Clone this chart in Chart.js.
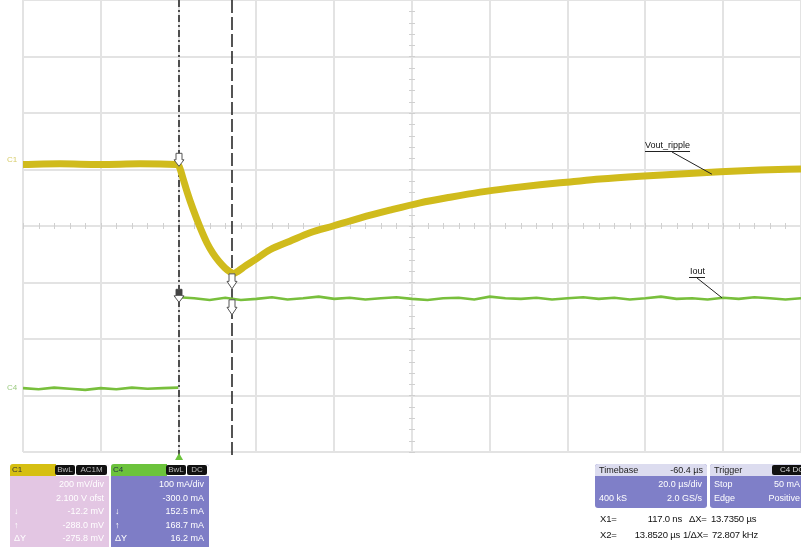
<!DOCTYPE html>
<html>
<head>
<meta charset="utf-8">
<script src="https://cdn.jsdelivr.net/npm/chart.js@4/dist/chart.umd.min.js"></script>
<style>
  html, body { margin: 0; padding: 0; background: #fff; }
  #wrap { position: relative; width: 801px; height: 547px; overflow: hidden;
          font-family: "Liberation Sans", Arial, sans-serif; }
  #scope { position: absolute; left: 0; top: 0; }
  .box { position: absolute; border-radius: 3px; overflow: hidden; font-size: 9px; line-height: 13px; }
  .hdr { position: relative; height: 12px; line-height: 12px; }
  .body { position: relative; color: #fff; padding: 2px 5px 0 4px; }
  .row { position: relative; height: 13.5px; }
  .row .l { position: absolute; left: 0; }
  .row .r { position: absolute; right: 0; }
  .badge { position: absolute; top: 1px; height: 10px; line-height: 10px; background: #111; color: #bbb;
           font-size: 8px; text-align: center; border-radius: 2px; }
  .meas { position: absolute; font-size: 9.5px; color: #111; white-space: nowrap; letter-spacing: -0.2px; }
</style>
</head>
<body>
<div id="wrap">
  <canvas id="scope" width="801" height="547"></canvas>

  <!-- channel 1 panel -->
  <div class="box" style="left:10px;top:464px;width:99px;height:86px;background:#e3c6e3;">
    <div class="hdr" style="background:#fff;">
      <div style="position:absolute;left:0;top:0;width:44px;height:12px;background:#d6bf12;color:#333;font-size:8px;padding-left:2px;">C1</div>
      <div class="badge" style="left:45px;width:20px;">BwL</div>
      <div class="badge" style="left:66px;width:31px;">AC1M</div>
    </div>
    <div class="body">
      <div class="row"><span class="r">200 mV/div</span></div>
      <div class="row"><span class="r">2.100 V ofst</span></div>
      <div class="row"><span class="l">↓</span><span class="r">-12.2 mV</span></div>
      <div class="row"><span class="l">↑</span><span class="r">-288.0 mV</span></div>
      <div class="row"><span class="l">ΔY</span><span class="r">-275.8 mV</span></div>
    </div>
  </div>

  <!-- channel 4 panel -->
  <div class="box" style="left:111px;top:464px;width:98px;height:86px;background:#7e7dc6;">
    <div class="hdr" style="background:#fff;">
      <div style="position:absolute;left:0;top:0;width:54px;height:12px;background:#6cc33c;color:#234;font-size:8px;padding-left:2px;">C4</div>
      <div class="badge" style="left:55px;width:20px;">BwL</div>
      <div class="badge" style="left:76px;width:20px;">DC</div>
    </div>
    <div class="body">
      <div class="row"><span class="r">100 mA/div</span></div>
      <div class="row"><span class="r">-300.0 mA</span></div>
      <div class="row"><span class="l">↓</span><span class="r">152.5 mA</span></div>
      <div class="row"><span class="l">↑</span><span class="r">168.7 mA</span></div>
      <div class="row"><span class="l">ΔY</span><span class="r">16.2 mA</span></div>
    </div>
  </div>

  <!-- timebase panel -->
  <div class="box" style="left:595px;top:464px;width:112px;height:44px;background:#7f7fc8;">
    <div class="hdr" style="background:#dcdcef;color:#222;padding:0 4px;">
      <span style="position:absolute;left:4px;">Timebase</span>
      <span style="position:absolute;right:4px;">-60.4 µs</span>
    </div>
    <div class="body">
      <div class="row"><span class="r">20.0 µs/div</span></div>
      <div class="row"><span class="l">400 kS</span><span class="r">2.0 GS/s</span></div>
    </div>
  </div>

  <!-- trigger panel -->
  <div class="box" style="left:710px;top:464px;width:104px;height:44px;background:#7f7fc8;">
    <div class="hdr" style="background:#dcdcef;color:#222;">
      <span style="position:absolute;left:4px;">Trigger</span>
      <div class="badge" style="left:62px;width:40px;color:#ddd;">C4 DC</div>
    </div>
    <div class="body" style="padding-right:14px;">
      <div class="row"><span class="l">Stop</span><span class="r">50 mA</span></div>
      <div class="row"><span class="l">Edge</span><span class="r">Positive</span></div>
    </div>
  </div>

  <!-- cursor readouts -->
  <div class="meas" style="left:600px;top:513px;">X1=</div>
  <div class="meas" style="left:620px;top:513px;width:62px;text-align:right;">117.0 ns</div>
  <div class="meas" style="left:689px;top:513px;">ΔX=</div>
  <div class="meas" style="left:711px;top:513px;">13.7350 µs</div>
  <div class="meas" style="left:600px;top:529px;">X2=</div>
  <div class="meas" style="left:612px;top:529px;width:68px;text-align:right;">13.8520 µs</div>
  <div class="meas" style="left:683px;top:529px;">1/ΔX=</div>
  <div class="meas" style="left:712px;top:529px;">72.807 kHz</div>
</div>

<script>
// Time axis: 20 µs/div, 10 divisions, trigger at 0 µs
const timeTicksUs = [-40, -20, 0, 20, 40, 60, 80, 100, 120, 140, 160];
const vertDivs = [-4, -3, -2, -1, 0, 1, 2, 3, 4];

// C1 output voltage (AC coupled), in screen divisions
const voutTimeUs = [-40, -30.5, -20.2, -9.9, -0.7, 0.1, 1.1, 2.2, 3.7, 5.5, 7.3, 8.8, 10.4, 11.9, 13.2, 14.2,
  15.3, 17.1, 19.6, 23.5, 28.6, 33.8, 39.7, 46.6, 54.3, 62.1, 69.8, 77.5, 85.2, 92.9, 100.6, 108.3,
  118.6, 128.9, 139.2, 149.5, 160];
const voutDiv = [1.09, 1.10, 1.09, 1.10, 1.09, 1.06, 0.85, 0.60, 0.30, -0.02, -0.30, -0.48, -0.63, -0.74, -0.81, -0.84,
  -0.80, -0.71, -0.60, -0.42, -0.27, -0.12, 0.00, 0.14, 0.28, 0.41, 0.51, 0.60, 0.67, 0.73, 0.78, 0.83,
  0.88, 0.92, 0.96, 0.99, 1.01];

// C4 load current, in mA (100 mA/div); null marks the step, which the scope does not trace
const ioutTimeUs = [-40, -36, -32, -28, -24, -20, -16, -12, -8, -4, -0.1, 0, 0.1,
  4, 8, 12, 16, 20, 24, 28, 32, 36, 40, 44, 48, 52, 56, 60, 64, 68, 72, 76, 80,
  84, 88, 92, 96, 100, 104, 108, 112, 116, 120, 124, 128, 132, 136, 140, 144, 148, 152, 156, 160];
const ioutMa = [1, -1, 2, 0, -2, 1, -1, 2, 0, 1, 2, null, 162,
  160, 157, 161, 157, 159, 162, 158, 160, 163, 159, 161, 158, 160, 162, 159, 157, 160, 161, 158, 163,
  160, 159, 161, 158, 160, 162, 159, 161, 158, 160, 163, 159, 160, 158, 161, 159, 162, 160, 158, 160];

// Cursor positions (µs)
const cursorX1 = 0.117;
const cursorX2 = 13.852;

// Screen placement of the current trace zero level (divisions)
const ioutZeroDiv = -2.88;
const ioutMaPerDiv = 100;

const voutPoints = voutTimeUs.map((t, i) => ({ x: t, y: voutDiv[i] }));
const ioutDiv = ioutMa.map(v => v === null ? null : v / ioutMaPerDiv + ioutZeroDiv);
const ioutPoints = ioutTimeUs.map((t, i) => ({ x: t, y: ioutDiv[i] }));

function interp(xs, ys, x) {
  const px = [], py = [];
  xs.forEach((v, i) => { if (ys[i] !== null) { px.push(v); py.push(ys[i]); } });
  for (let i = 1; i < px.length; i++) {
    if (x <= px[i]) {
      const f = (x - px[i - 1]) / (px[i] - px[i - 1]);
      return py[i - 1] + f * (py[i] - py[i - 1]);
    }
  }
  return py[py.length - 1];
}

function cursorArrow(ctx, cx, top, h, darkStem) {
  const sw = 3, hw = 5, stem = h * 0.5;
  ctx.save();
  ctx.lineWidth = 1;
  ctx.strokeStyle = '#555';
  ctx.beginPath();
  ctx.moveTo(cx - sw, top);
  ctx.lineTo(cx + sw, top);
  ctx.lineTo(cx + sw, top + stem);
  ctx.lineTo(cx + hw, top + stem);
  ctx.lineTo(cx, top + h);
  ctx.lineTo(cx - hw, top + stem);
  ctx.lineTo(cx - sw, top + stem);
  ctx.closePath();
  ctx.fillStyle = '#fff';
  ctx.fill();
  ctx.stroke();
  if (darkStem) {
    ctx.fillStyle = '#444';
    ctx.fillRect(cx - sw, top, sw * 2, stem);
  }
  ctx.restore();
}

const scopeDecor = {
  id: 'scopeDecor',
  beforeDatasetsDraw(chart) {
    const { ctx, chartArea: a, scales: { x, y } } = chart;
    ctx.save();
    // minor ticks on the centre axes
    ctx.strokeStyle = '#d0d0d0';
    ctx.lineWidth = 1;
    const cx = x.getPixelForValue(60), cy = y.getPixelForValue(0);
    for (let t = -40; t <= 160; t += 4) {
      const px = Math.round(x.getPixelForValue(t)) + 0.5;
      ctx.beginPath(); ctx.moveTo(px, cy - 3); ctx.lineTo(px, cy + 3); ctx.stroke();
    }
    for (let v = -4; v <= 4; v += 0.2) {
      const py = Math.round(y.getPixelForValue(v)) + 0.5;
      ctx.beginPath(); ctx.moveTo(cx - 3, py); ctx.lineTo(cx + 3, py); ctx.stroke();
    }
    // cursor lines
    ctx.strokeStyle = '#2a2a2a';
    ctx.lineWidth = 1.6;
    ctx.setLineDash([7, 3, 2, 3]);
    let px = Math.round(x.getPixelForValue(cursorX1));
    ctx.beginPath(); ctx.moveTo(px, a.top); ctx.lineTo(px, a.bottom + 4); ctx.stroke();
    ctx.setLineDash([13, 4]);
    px = Math.round(x.getPixelForValue(cursorX2));
    ctx.beginPath(); ctx.moveTo(px, a.top); ctx.lineTo(px, a.bottom + 4); ctx.stroke();
    ctx.restore();
  },
  afterDatasetsDraw(chart) {
    const { ctx, chartArea: a, scales: { x, y } } = chart;
    ctx.save();
    const x1 = x.getPixelForValue(cursorX1), x2 = x.getPixelForValue(cursorX2);
    const vy1 = y.getPixelForValue(interp(voutTimeUs, voutDiv, cursorX1));
    const vy2 = y.getPixelForValue(interp(voutTimeUs, voutDiv, cursorX2));
    const iy1 = y.getPixelForValue(interp(ioutTimeUs, ioutDiv, 4));
    const iy2 = y.getPixelForValue(interp(ioutTimeUs, ioutDiv, cursorX2));
    cursorArrow(ctx, Math.round(x1), vy1 - 13, 13, false);
    cursorArrow(ctx, Math.round(x1), iy1 - 9, 13, true);
    cursorArrow(ctx, Math.round(x2), vy2 + 1, 15, false);
    cursorArrow(ctx, Math.round(x2), iy2 + 1, 15, false);

    // trigger position marker under the grid
    ctx.fillStyle = '#6cc33c';
    ctx.beginPath();
    ctx.moveTo(x1, a.bottom + 1);
    ctx.lineTo(x1 + 4, a.bottom + 8);
    ctx.lineTo(x1 - 4, a.bottom + 8);
    ctx.closePath();
    ctx.fill();

    // channel tags at the left edge
    ctx.font = '8px "Liberation Sans", Arial, sans-serif';
    ctx.textBaseline = 'middle';
    ctx.fillStyle = '#d7cc6a';
    ctx.fillText('C1', 7, y.getPixelForValue(voutDiv[0]) - 5);
    ctx.fillStyle = '#9ccb80';
    ctx.fillText('C4', 7, y.getPixelForValue(ioutZeroDiv) - 1);

    // trace annotations with leader lines
    ctx.fillStyle = '#111';
    ctx.strokeStyle = '#222';
    ctx.lineWidth = 1;
    ctx.font = '9px "Liberation Sans", Arial, sans-serif';
    ctx.textBaseline = 'alphabetic';
    const vTxt = 'Vout_ripple';
    ctx.fillText(vTxt, 645, 148);
    let w = ctx.measureText(vTxt).width;
    ctx.beginPath(); ctx.moveTo(645, 151.5); ctx.lineTo(645 + w, 151.5); ctx.stroke();
    const vt = 137.1;
    ctx.beginPath(); ctx.moveTo(672, 152); ctx.lineTo(x.getPixelForValue(vt), y.getPixelForValue(interp(voutTimeUs, voutDiv, vt)) + 2); ctx.stroke();
    const iTxt = 'Iout';
    ctx.fillText(iTxt, 690, 274);
    w = ctx.measureText(iTxt).width;
    ctx.beginPath(); ctx.moveTo(689, 277.5); ctx.lineTo(690 + w, 277.5); ctx.stroke();
    const it = 139.7;
    ctx.beginPath(); ctx.moveTo(697, 278); ctx.lineTo(x.getPixelForValue(it), y.getPixelForValue(interp(ioutTimeUs, ioutDiv, it))); ctx.stroke();
    ctx.restore();
  }
};

new Chart(document.getElementById('scope'), {
  type: 'line',
  data: {
    datasets: [
      {
        label: 'Iout',
        data: ioutPoints,
        borderColor: '#78bf3c',
        borderWidth: 2.6,
        pointRadius: 0,
        tension: 0,
        spanGaps: false
      },
      {
        label: 'Vout_ripple',
        data: voutPoints,
        borderColor: '#d0bb1c',
        borderWidth: 7,
        pointRadius: 0,
        cubicInterpolationMode: 'monotone'
      }
    ]
  },
  options: {
    responsive: false,
    animation: false,
    devicePixelRatio: 1,
    layout: { padding: { left: 23, right: 0, top: 0, bottom: 95 } },
    plugins: { legend: { display: false }, tooltip: { enabled: false } },
    scales: {
      x: {
        type: 'linear', min: -40, max: 160,
        afterBuildTicks: s => { s.ticks = timeTicksUs.map(v => ({ value: v })); },
        ticks: { display: false },
        grid: { color: '#e3e3e3', lineWidth: 2, drawTicks: false },
        border: { display: false }
      },
      y: {
        type: 'linear', min: -4, max: 4,
        afterBuildTicks: s => { s.ticks = vertDivs.map(v => ({ value: v })); },
        ticks: { display: false },
        grid: { color: '#e3e3e3', lineWidth: 2, drawTicks: false },
        border: { display: false }
      }
    }
  },
  plugins: [scopeDecor]
});
</script>
</body>
</html>
